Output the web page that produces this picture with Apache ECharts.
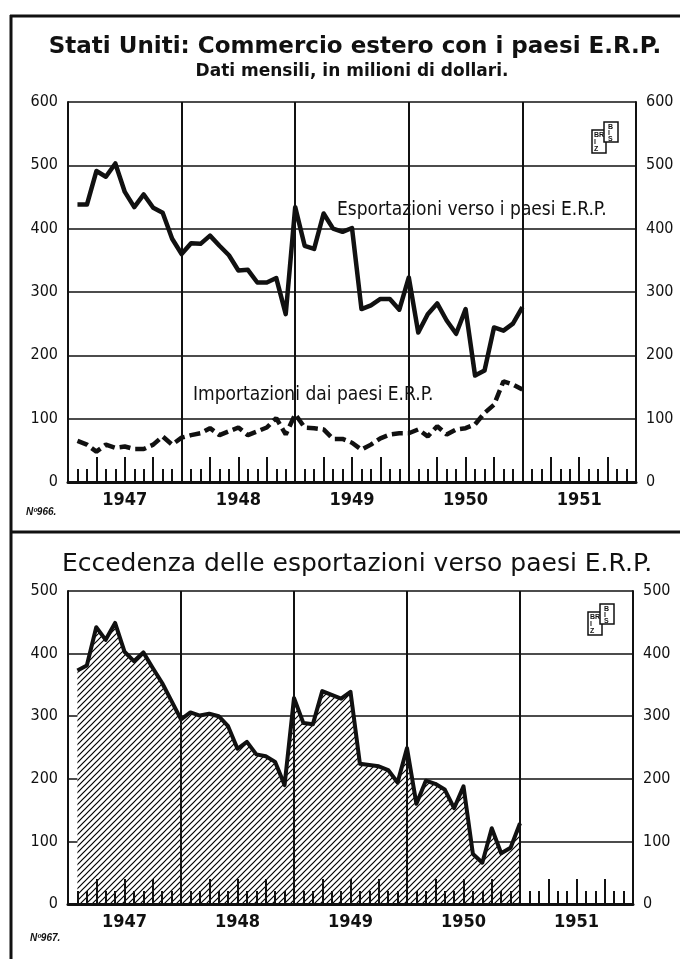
<!DOCTYPE html>
<html>
<head>
<meta charset="utf-8">
<script src="https://cdn.jsdelivr.net/npm/echarts@6/dist/echarts.min.js"></script>
<style>
html, body { margin: 0; padding: 0; background: #fff; }
#main { width: 680px; height: 959px; }
</style>
</head>
<body>
<div id="main"></div>
<script>
// anni sull'asse orizzontale
const anni = ['1947', '1948', '1949', '1950', '1951'];
// dati mensili gen 1947 - dic 1950, milioni di dollari
const esportazioni = [438, 438, 491, 482, 503, 458, 434, 454, 433, 425, 384, 360,
                      377, 376, 389, 373, 358, 334, 335, 315, 315, 322, 265, 434,
                      373, 368, 424, 400, 395, 401, 273, 279, 289, 289, 272, 323,
                      236, 265, 282, 255, 234, 273, 168, 176, 244, 239, 250, 276];
const importazioni = [65, 59, 48, 59, 54, 56, 52, 52, 59, 72, 59, 70,
                      74, 77, 85, 74, 80, 86, 74, 80, 86, 101, 75, 107,
                      86, 85, 83, 68, 68, 62, 51, 59, 69, 75, 77, 77,
                      83, 72, 88, 75, 83, 85, 91, 109, 122, 159, 154, 146];
const eccedenza = [373, 381, 442, 422, 449, 403, 388, 402, 377, 353, 324, 295,
                   306, 301, 304, 300, 284, 248, 259, 239, 236, 227, 190, 329,
                   289, 287, 340, 334, 328, 339, 224, 222, 220, 214, 194, 249,
                   160, 197, 192, 183, 153, 188, 80, 66, 121, 81, 90, 129];

const NERO = '#111';
const FONT = '"Liberation Sans Narrow", "DejaVu Sans Condensed", sans-serif';

// tratteggio diagonale per l'area
const tr = document.createElement('canvas');
tr.width = 6; tr.height = 6;
const c = tr.getContext('2d');
c.fillStyle = '#fff';
c.fillRect(0, 0, 6, 6);
c.strokeStyle = '#000';
c.lineWidth = 1.2;
c.beginPath();
c.moveTo(0, 6); c.lineTo(6, 0);
c.moveTo(-1, 1); c.lineTo(1, -1);
c.moveTo(5, 7); c.lineTo(7, 5);
c.stroke();

function asseMesi(g) {
    return {
        type: 'value', gridIndex: g, min: 0, max: 60, interval: 3, position: 'bottom',
        axisLine: { show: true, lineStyle: { color: NERO, width: 3 } },
        axisTick: { show: true, inside: true, length: 25, lineStyle: { color: NERO, width: 2 } },
        minorTick: { show: true, splitNumber: 3, length: 13, lineStyle: { color: NERO, width: 2 } },
        axisLabel: { show: false },
        splitLine: { show: false },
        z: 5
    };
}
function asseAnni(g) {
    return {
        type: 'category', gridIndex: g, data: anni, boundaryGap: true, position: 'bottom',
        axisLine: { show: false }, axisTick: { show: false },
        axisLabel: { color: NERO, fontFamily: FONT, fontWeight: 'bold', fontSize: 18, margin: 9 },
        splitLine: { show: true, lineStyle: { color: NERO, width: 2 } },
        z: 5
    };
}
function asseY(g, max, pos) {
    return {
        type: 'value', gridIndex: g, min: 0, max: max, interval: 100, position: pos,
        axisLine: { show: true, lineStyle: { color: NERO, width: 2 } },
        axisTick: { show: false },
        axisLabel: { color: NERO, fontFamily: FONT, fontSize: 16, margin: 10 },
        splitLine: { show: pos === 'left', lineStyle: { color: NERO, width: 1.5 } }
    };
}
function logo(x, y) {
    return {
        type: 'group', x: x, y: y, children: [
            { type: 'rect', shape: { x: 0, y: 8, width: 14, height: 23 }, style: { fill: '#fff', stroke: NERO, lineWidth: 1.5 } },
            { type: 'rect', shape: { x: 12, y: 0, width: 14, height: 20 }, style: { fill: '#fff', stroke: NERO, lineWidth: 1.5 } },
            { type: 'text', x: 2, y: 10, style: { text: 'BR\nI\nZ', font: 'bold 7px sans-serif', fill: NERO, lineHeight: 7 } },
            { type: 'text', x: 16, y: 2, style: { text: 'B\nI\nS', font: 'bold 7px sans-serif', fill: NERO, lineHeight: 6 } }
        ]
    };
}

const chart = echarts.init(document.getElementById('main'));
chart.setOption({
    backgroundColor: '#fff',
    animation: false,
    grid: [
        { left: 68, top: 102, width: 568, height: 380 },
        { left: 68, top: 591, width: 565, height: 313 }
    ],
    xAxis: [asseMesi(0), asseAnni(0), asseMesi(1), asseAnni(1)],
    yAxis: [asseY(0, 600, 'left'), asseY(0, 600, 'right'), asseY(1, 500, 'left'), asseY(1, 500, 'right')],
    series: [
        {
            name: 'Esportazioni', type: 'line', xAxisIndex: 0, yAxisIndex: 0,
            data: esportazioni.map((v, i) => [i + 1, v]),
            symbol: 'none', z: 3,
            lineStyle: { color: NERO, width: 4.5, join: 'round' }
        },
        {
            name: 'Importazioni', type: 'line', xAxisIndex: 0, yAxisIndex: 0,
            data: importazioni.map((v, i) => [i + 1, v]),
            symbol: 'none', z: 3,
            lineStyle: { color: NERO, width: 4.5, type: [11, 5] }
        },
        {
            name: 'Eccedenza', type: 'line', xAxisIndex: 2, yAxisIndex: 2,
            data: eccedenza.map((v, i) => [i + 1, v]),
            symbol: 'none', z: 3,
            lineStyle: { color: NERO, width: 4, join: 'round' },
            areaStyle: { color: { image: tr, repeat: 'repeat' }, opacity: 1 }
        }
    ],
    graphic: [
        // cornice
        { type: 'line', shape: { x1: 10, y1: 16, x2: 680, y2: 16 }, style: { stroke: NERO, lineWidth: 3 } },
        { type: 'line', shape: { x1: 11, y1: 15, x2: 11, y2: 959 }, style: { stroke: NERO, lineWidth: 3 } },
        { type: 'line', shape: { x1: 10, y1: 532, x2: 680, y2: 532 }, style: { stroke: NERO, lineWidth: 3 } },
        // titoli
        { type: 'text', x: 355, y: 47, style: { text: 'Stati Uniti: Commercio estero con i paesi E.R.P.', font: 'bold 23px "DejaVu Sans", sans-serif', fill: NERO, align: 'center', verticalAlign: 'middle' } },
        { type: 'text', x: 352, y: 72, style: { text: 'Dati mensili, in milioni di dollari.', font: 'bold 17px "DejaVu Sans", sans-serif', fill: NERO, align: 'center', verticalAlign: 'middle' } },
        { type: 'text', x: 357, y: 564, style: { text: 'Eccedenza delle esportazioni verso paesi E.R.P.', font: '25px "DejaVu Sans", sans-serif', fill: NERO, align: 'center', verticalAlign: 'middle' } },
        // etichette serie
        { type: 'text', x: 337, y: 210, z: 10, style: { text: 'Esportazioni verso i paesi E.R.P.', font: '19px ' + FONT, fill: NERO, verticalAlign: 'middle' } },
        { type: 'text', x: 193, y: 395, z: 10, style: { text: 'Importazioni dai paesi E.R.P.', font: '19px ' + FONT, fill: NERO, verticalAlign: 'middle' } },
        // numeri di tavola
        { type: 'text', x: 26, y: 512, style: { text: 'Nº966.', font: 'italic bold 10px "Liberation Sans", sans-serif', fill: NERO, verticalAlign: 'middle' } },
        { type: 'text', x: 30, y: 938, style: { text: 'Nº967.', font: 'italic bold 10px "Liberation Sans", sans-serif', fill: NERO, verticalAlign: 'middle' } },
        logo(592, 122),
        logo(588, 604)
    ]
});
</script>
</body>
</html>
